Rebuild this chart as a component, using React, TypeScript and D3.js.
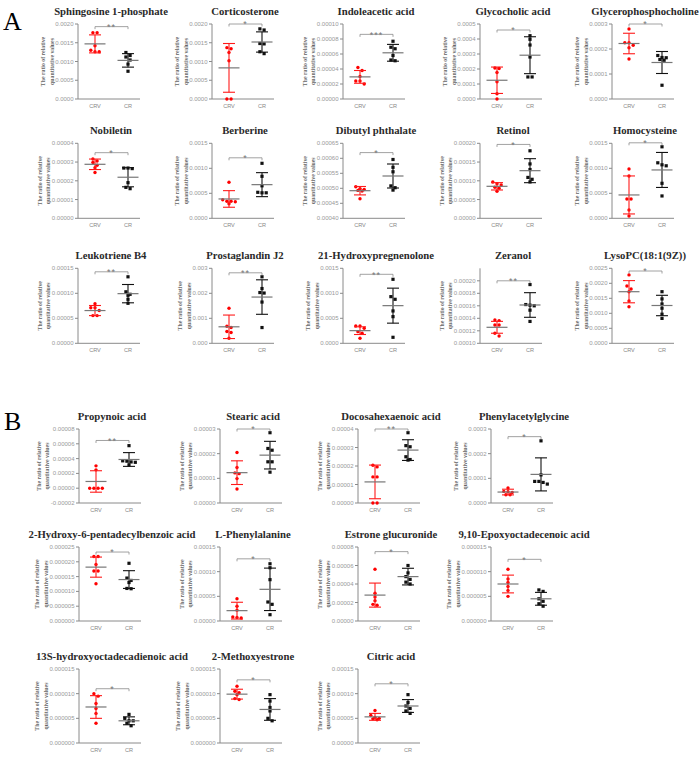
import React from 'react';
import * as d3 from 'd3';

// ---- data ----
const panelTitles = [
  'Sphingosine 1-phosphate', 'Corticosterone', 'Indoleacetic acid', 'Glycocholic acid', 'Glycerophosphocholine',
  'Nobiletin', 'Berberine', 'Dibutyl phthalate', 'Retinol', 'Homocysteine',
  'Leukotriene B4', 'Prostaglandin J2', '21-Hydroxypregnenolone', 'Zeranol', 'LysoPC(18:1(9Z))',
  'Propynoic acid', 'Stearic acid', 'Docosahexaenoic acid', 'Phenylacetylglycine',
  '2-Hydroxy-6-pentadecylbenzoic acid', 'L-Phenylalanine', 'Estrone glucuronide', '9,10-Epoxyoctadecenoic acid',
  '13S-hydroxyoctadecadienoic acid', '2-Methoxyestrone', 'Citric acid',
];

const groups = ['CRV', 'CR'];

const tickLabels: string[][] = [
  ['0.0000', '0.0005', '0.0010', '0.0015', '0.0020'],
  ['0.0000', '0.0005', '0.0010', '0.0015', '0.0020'],
  ['0.00000', '0.00002', '0.00004', '0.00006', '0.00008', '0.00010'],
  ['0.0000', '0.0001', '0.0002', '0.0003', '0.0004', '0.0005'],
  ['0.0000', '0.0001', '0.0002', '0.0003'],
  ['0.00000', '0.00001', '0.00002', '0.00003', '0.00004'],
  ['0.0000', '0.0005', '0.0010', '0.0015'],
  ['0.00040', '0.00045', '0.00050', '0.00055', '0.00060', '0.00065'],
  ['0.00000', '0.00005', '0.00010', '0.00015', '0.00020'],
  ['0.0000', '0.0005', '0.0010', '0.0015'],
  ['0.00000', '0.00005', '0.00010', '0.00015'],
  ['0.000', '0.001', '0.002', '0.003'],
  ['0.0000', '0.0005', '0.0010', '0.0015'],
  ['0.00010', '0.00012', '0.00014', '0.00016', '0.00018', '0.00020'],
  ['0.0000', '0.0005', '0.0010', '0.0015', '0.0020', '0.0025'],
  ['-0.00002', '0.00000', '0.00002', '0.00004', '0.00006', '0.00008'],
  ['0.00000', '0.00001', '0.00002', '0.00003'],
  ['0.00000', '0.00001', '0.00002', '0.00003', '0.00004'],
  ['0.0000', '0.0001', '0.0002', '0.0003'],
  ['0.000000', '0.000005', '0.000010', '0.000015', '0.000020', '0.000025'],
  ['0.00000', '0.00005', '0.00010', '0.00015'],
  ['0.00000', '0.00002', '0.00004', '0.00006', '0.00008'],
  ['0.000000', '0.000005', '0.000010', '0.000015'],
  ['0.000000', '0.000005', '0.000010', '0.000015'],
  ['0.000000', '0.000005', '0.000010', '0.000015'],
  ['0.00000', '0.00005', '0.00010', '0.00015'],
];

const yDomains: number[][] = [
  [0, 0.002], [0, 0.002], [0, 0.0001], [0, 0.0005], [0, 0.0003],
  [0, 0.00004], [0, 0.0015], [0.0004, 0.00065], [0, 0.0002], [0, 0.0015],
  [0, 0.00015], [0, 0.003], [0, 0.0015], [0.0001, 0.00022], [0, 0.0025],
  [-0.00002, 0.00008], [0, 0.00003], [0, 0.00004], [0, 0.0003],
  [0, 0.000025], [0, 0.00015], [0, 0.00008], [0, 0.000015],
  [0, 0.000015], [0, 0.000015], [0, 0.00015],
];

const crvValues: number[][] = [
  [0.00177, 0.00177, 0.00142, 0.0013, 0.00126, 0.00126],
  [0.00137, 0.00134, 0.00124, 0.00102, 0, 0],
  [0.000042, 0.000038, 0.00003, 0.000024, 0.000024, 0.00002],
  [0.000207, 0.000203, 0.000177, 0.000115, 0.000035, 0],
  [0.00028, 0.000225, 0.000225, 0.000215, 0.000205, 0.00016],
  [0.0000316, 0.0000306, 0.0000298, 0.0000283, 0.000027, 0.0000244],
  [0.00072, 0.00037, 0.00034, 0.00034, 0.00033, 0.00029],
  [0.000505, 0.000499, 0.000496, 0.000493, 0.000491, 0.000465],
  [0.000097, 0.000092, 0.000089, 0.000083, 0.00008, 0.000072],
  [0.000987, 0.000847, 0.000387, 0.000387, 0.000167, 0.000047],
  [0.000079, 0.000071, 0.000071, 0.0000655, 0.0000554, 0.0000554],
  [0.0014, 0.00068, 0.00063, 0.00047, 0.00043, 0.0002],
  [0.000347, 0.000347, 0.0003, 0.000233, 0.0002, 0.0001],
  [0.0001373, 0.0001363, 0.0001293, 0.0001293, 0.000116, 0.0001117],
  [0.00228, 0.00191, 0.00181, 0.00172, 0.00141, 0.00122],
  [0.0000302, 0.0000248, 0, 0, 0, 0],
  [0.0000205, 0.0000144, 0.0000122, 0.0000119, 0.0000099, 0.0000057],
  [0.0000204, 0.0000195, 0.0000141, 0.0000141, 0, 0],
  [0.0000606, 0.000047, 0.000046, 0.000043, 0.0000337, 0.0000337],
  [0.0000218, 0.0000218, 0.0000191, 0.0000169, 0.0000169, 0.0000126],
  [0.000045, 0.00003, 0.000022, 0.000008, 0.000007, 0.000006],
  [0.000056, 0.00003, 0.000026, 0.000022, 0.000018, 0.000017],
  [0.0000105, 0.0000085, 0.0000078, 0.000007, 0.0000062, 0.000005],
  [0.00001, 0.0000095, 0.000008, 0.000007, 0.000006, 0.000004],
  [0.0000115, 0.0000105, 0.0000102, 0.0000098, 0.000009, 0.0000088],
  [0.000066, 0.000056, 0.000052, 0.00005, 0.000049, 0.000047],
];

const crValues: number[][] = [
  [0.00124, 0.00116, 0.00112, 0.00104, 0.00093, 0.00074],
  [0.00187, 0.00184, 0.00148, 0.00147, 0.00126, 0.00121],
  [0.000077, 0.000069, 0.000067, 0.000058, 0.000052, 0.000051],
  [0.000422, 0.000398, 0.00036, 0.00028, 0.000147, 0.000147],
  [0.000174, 0.000166, 0.000165, 0.000158, 0.000155, 0.000055],
  [0.0000268, 0.0000268, 0.0000265, 0.000019, 0.0000165, 0.0000158],
  [0.0011, 0.00084, 0.00065, 0.00052, 0.00051, 0.00051],
  [0.000596, 0.00057, 0.000555, 0.000508, 0.000502, 0.000494],
  [0.00018, 0.000145, 0.00013, 0.000109, 0.000104, 0.000097],
  [0.00143, 0.00111, 0.00107, 0.00105, 0.0007, 0.000447],
  [0.000133, 0.000103, 0.000098, 0.000096, 0.000088, 0.00008],
  [0.00266, 0.00219, 0.00203, 0.00201, 0.00165, 0.00063],
  [0.00128, 0.000933, 0.00088, 0.000647, 0.000533, 0.00012],
  [0.000194, 0.000162, 0.000161, 0.00016, 0.000153, 0.000135],
  [0.00172, 0.00148, 0.00131, 0.00117, 0.00097, 0.00083],
  [0.0000575, 0.000037, 0.0000365, 0.0000355, 0.000035, 0.0000315],
  [0.0000285, 0.0000221, 0.0000214, 0.0000167, 0.0000167, 0.0000125],
  [0.000038, 0.000031, 0.0000304, 0.000025, 0.0000235, 0.0000232],
  [0.000252, 0.000114, 0.0000875, 0.0000875, 0.0000834, 0.0000767],
  [0.0000195, 0.0000145, 0.0000137, 0.000013, 0.000011, 0.0000109],
  [0.000116, 0.000108, 0.0000838, 0.0000385, 0.0000338, 0.0000128],
  [0.00006, 0.000052, 0.000048, 0.000045, 0.000042, 0.00004],
  [0.0000063, 0.000006, 0.0000045, 0.000004, 0.0000035, 0.000003],
  [0.0000058, 0.000005, 0.0000045, 0.0000045, 0.000004, 0.0000035],
  [0.0000098, 0.0000085, 0.0000072, 0.0000065, 0.000005, 0.0000045],
  [0.000098, 0.000082, 0.000075, 0.00007, 0.000065, 0.00006],
];

const crvMeans = [
  0.00147, 0.00083, 0.0000295, 0.000125, 0.000222,
  0.0000288, 0.000387, 0.000492, 0.0000853, 0.000467,
  0.0000655, 0.00066, 0.000253, 0.0001256, 0.00172,
  0.0000091, 0.0000123, 0.0000114, 0.0000444,
  0.0000182, 0.000021, 0.000028, 0.0000075,
  0.0000073, 0.0000099, 0.000053,
];
const crvSDs = [
  0.00024, 0.00065, 0.0000085, 0.000088, 0.000041,
  0.0000028, 0.000166, 0.000014, 0.0000098, 0.00038,
  0.0000101, 0.00047, 0.000077, 0.0000095, 0.00037,
  0.0000145, 0.0000048, 0.0000091, 0.0000115,
  0.0000034, 0.000017, 0.000013, 0.0000018,
  0.0000023, 0.000001, 0.000007,
];
const crMeans = [
  0.00103, 0.00152, 0.0000616, 0.000292, 0.000146,
  0.0000219, 0.000673, 0.000541, 0.000127, 0.000967,
  0.0000993, 0.00185, 0.000753, 0.0001613, 0.00126,
  0.0000388, 0.0000194, 0.0000286, 0.000116,
  0.000014, 0.0000642, 0.000048, 0.0000045,
  0.0000045, 0.0000068, 0.000075,
];
const crSDs = [
  0.00018, 0.00027, 0.0000112, 0.000123, 0.000044,
  0.0000051, 0.00024, 0.00004, 0.000032, 0.00035,
  0.0000183, 0.00069, 0.00035, 0.0000197, 0.00034,
  0.0000093, 0.0000056, 0.0000056, 0.000067,
  0.000003, 0.000043, 0.000009, 0.0000013,
  0.0000008, 0.0000022, 0.000013,
];

const sigMarks = [
  '**', '*', '***', '*', '*',
  '*', '*', '*', '*', '*',
  '**', '**', '**', '**', '*',
  '**', '*', '**', '*',
  '*', '*', '*', '*',
  '*', '*', '*',
];
const bracketValues = [
  0.00193, 0.002, 0.0000862, 0.00046, 0.0003,
  0.000035, 0.00121, 0.000619, 0.000197, 0.00151,
  0.000143, 0.00282, 0.00138, 0.0002, 0.00241,
  0.0000645, 0.00003, 0.00004, 0.000269,
  0.0000233, 0.000126, 0.000075, 0.0000125,
  0.000011, 0.0000128, 0.00012,
];

// ---- layout ----
const colXA = [78, 212, 343, 480, 612];
const rowTopA = [24, 143.3, 268.3];
const colXB = [79, 220, 358, 491];
const rowTopB = [429, 547, 669];
const PLOT_W = 62;

const axisGray = '#8a8a8a';
const serif = '"Liberation Serif", "Times New Roman", serif';
const sans = '"Liberation Sans", Arial, sans-serif';

function panelBox(i: number) {
  if (i < 15) return { x0: colXA[i % 5], top: rowTopA[Math.floor(i / 5)], h: 75 };
  const j = i - 15;
  return { x0: colXB[j % 4], top: rowTopB[Math.floor(j / 4)], h: 74 };
}

// rough width of a 6px Arial tick label
function labelWidth(s: string) {
  let w = 0;
  for (const c of s) w += c === '.' ? 1.67 : c === '-' ? 2.0 : 3.34;
  return w;
}

// Prism-like scatter: points at nearly the same height are spread in a row
function dodge(values: number[], y: d3.ScaleLinear<number, number>, cx: number) {
  const pts = values.map((v) => ({ v, py: y(v) })).sort((a, b) => a.py - b.py);
  const rows: { v: number; py: number }[][] = [];
  pts.forEach((p) => {
    const last = rows[rows.length - 1];
    if (last && p.py - last[0].py < 3.2) last.push(p);
    else rows.push([p]);
  });
  return rows.flatMap((r) => r.map((p, k) => ({ cx: cx + (k - (r.length - 1) / 2) * 4.2, cy: p.py })));
}

function Panel({ i }: { i: number }) {
  const { x0, top, h } = panelBox(i);
  const y = d3.scaleLinear().domain(yDomains[i]).range([top + h, top]);
  const x = d3.scalePoint().domain(groups).range([x0 + 17, x0 + 50]);
  const bottom = top + h;
  const ticks = tickLabels[i].map((l) => ({ v: +l, l }));
  const maxW = d3.max(tickLabels[i], labelWidth) as number;
  const tickLeft = x0 - 4.5 - maxW;
  const yMid = (top + bottom) / 2;

  const stats = [
    { g: 'CRV', vals: crvValues[i], mean: crvMeans[i], sd: crvSDs[i], color: '#ff1a1a' },
    { g: 'CR', vals: crValues[i], mean: crMeans[i], sd: crSDs[i], color: '#111' },
  ];

  const bx1 = x('CRV') as number;
  const bx2 = x('CR') as number;
  const by = y(bracketValues[i]);

  return (
    <g>
      <text x={x0 + 33} y={top - 9} textAnchor="middle" fontFamily={serif} fontWeight="bold" fontSize={10.7} fill="#2a2a2a">
        {panelTitles[i]}
      </text>
      {/* y axis */}
      <line x1={x0} x2={x0} y1={top} y2={bottom} stroke={axisGray} strokeWidth={1} />
      {ticks.map((t) => (
        <g key={t.l}>
          <line x1={x0 - 3} x2={x0} y1={y(t.v)} y2={y(t.v)} stroke={axisGray} strokeWidth={1} />
          <text x={x0 - 4.5} y={y(t.v) + 2} textAnchor="end" fontFamily={sans} fontSize={6} fill="#999">
            {t.l}
          </text>
        </g>
      ))}
      <text transform={`translate(${tickLeft - 10},${yMid}) rotate(-90)`} textAnchor="middle" fontFamily={serif} fontWeight="bold" fontSize={5.8} fill="#666">
        The ratio of relative
      </text>
      <text transform={`translate(${tickLeft - 1.5},${yMid}) rotate(-90)`} textAnchor="middle" fontFamily={serif} fontWeight="bold" fontSize={5.8} fill="#666">
        quantitative values
      </text>
      {/* x axis */}
      <line x1={x0} x2={x0 + PLOT_W} y1={bottom} y2={bottom} stroke={axisGray} strokeWidth={1} />
      {groups.map((g) => (
        <text key={g} x={x(g)} y={bottom + 9} textAnchor="middle" fontFamily={sans} fontSize={5.6} fill="#888">
          {g}
        </text>
      ))}
      {/* points and error bars */}
      {stats.map((s) => {
        const cx = x(s.g) as number;
        const pts = dodge(s.vals, y, cx);
        const yHi = y(s.mean + s.sd);
        const yLo = y(s.mean - s.sd);
        return (
          <g key={s.g}>
            {pts.map((p, k) =>
              s.g === 'CRV' ? (
                <circle key={k} cx={p.cx} cy={p.cy} r={1.7} fill="#ff0000" />
              ) : (
                <rect key={k} x={p.cx - 1.6} y={p.cy - 1.6} width={3.2} height={3.2} fill="#111" />
              )
            )}
            <line x1={cx} x2={cx} y1={yHi} y2={yLo} stroke={s.color} strokeWidth={1.1} />
            <line x1={cx - 6} x2={cx + 6} y1={yHi} y2={yHi} stroke={s.color} strokeWidth={1.1} />
            <line x1={cx - 6} x2={cx + 6} y1={yLo} y2={yLo} stroke={s.color} strokeWidth={1.1} />
            <line x1={cx - 10.5} x2={cx + 10.5} y1={y(s.mean)} y2={y(s.mean)} stroke="#777" strokeWidth={1.2} />
          </g>
        );
      })}
      {/* significance bracket */}
      <path d={`M${bx1},${by + 2.5}V${by}H${bx2}V${by + 2.5}`} fill="none" stroke={axisGray} strokeWidth={0.8} />
      <text x={(bx1 + bx2) / 2} y={by + 3.2} textAnchor="middle" fontFamily={sans} fontSize={9} letterSpacing={1} fill="#777">
        {sigMarks[i]}
      </text>
    </g>
  );
}

export default function App() {
  return (
    <svg width={700} height={757} style={{ position: 'absolute', left: 0, top: 0, background: '#fff' }}>
      <rect width={700} height={757} fill="#fff" />
      <text x={3} y={30} fontFamily={serif} fontSize={26} fill="#000">A</text>
      <text x={4} y={430} fontFamily={serif} fontSize={26} fill="#000">B</text>
      {panelTitles.map((_, i) => (
        <Panel key={i} i={i} />
      ))}
    </svg>
  );
}
